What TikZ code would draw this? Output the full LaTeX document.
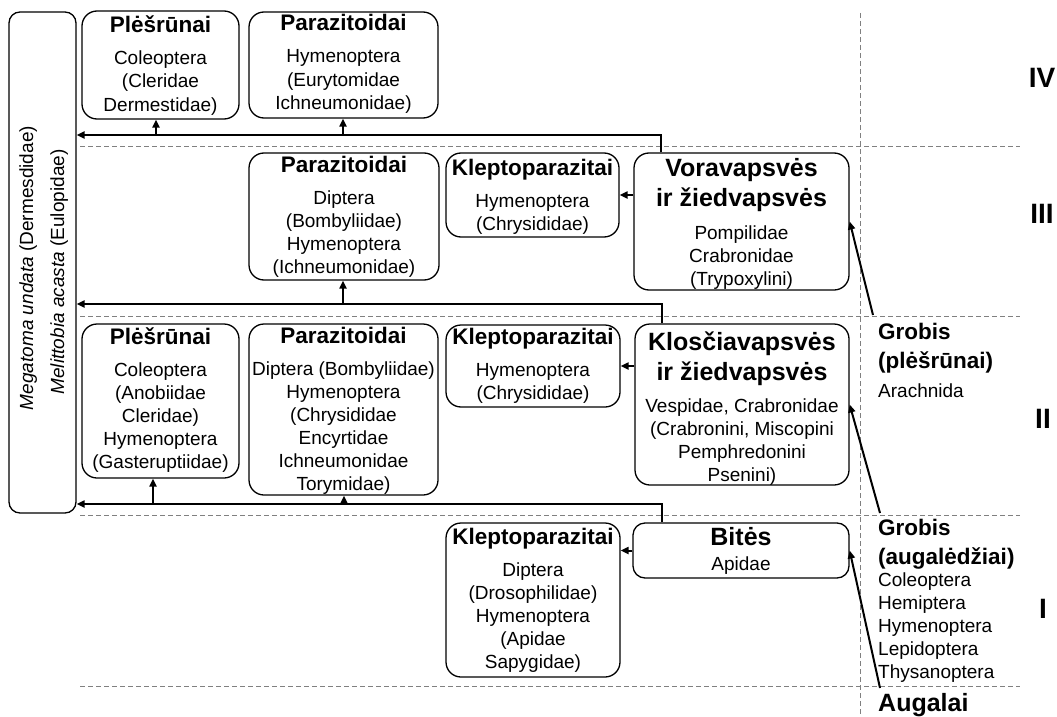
\documentclass[tikz,border=0pt]{standalone}
\usepackage{fontspec}
\setmainfont{Liberation Sans}
\usetikzlibrary{arrows.meta}
\newcommand\bx[6][]{\node[box,#1, minimum width={(#5-#3)*1pt}, minimum height={(#6-#4)*1pt}] (#2) at ({(#3+#5)/2},{(#4+#6)/2}) {};}
\newcommand\txt[6][]{\foreach \ww [count=\nn] in {#6} {\node[body,#1] (#2-\nn) at (#3,{#4+(\nn-1)*#5}) {\ww};}}
\begin{document}
\begin{tikzpicture}[x=1pt,y=-1pt,
 box/.style={draw, line width=1.3pt, rounded corners=15pt, inner sep=0pt},
 body/.style={font=\fontsize{19}{23}\selectfont, anchor=base, inner sep=0pt},
 ttl/.style={font=\bfseries\fontsize{22.5}{27}\selectfont, anchor=base, inner sep=0pt},
 big/.style={font=\bfseries\fontsize{25}{30}\selectfont, anchor=base, inner sep=0pt},
 num/.style={font=\bfseries\fontsize{28}{34}\selectfont, anchor=base, inner sep=0pt},
 conn/.style={line width=2pt, -{Triangle[length=8pt,width=7pt]}},
 grid/.style={gray, line width=0.9pt, dash pattern=on 5pt off 3pt},
]
\useasboundingbox (0,0) rectangle (1057,717);

% grid
\draw[grid] (80,146) -- (1020,146);
\draw[grid] (80,316) -- (1020,316);
\draw[grid] (80,515) -- (1020,515);
\draw[grid] (80,686) -- (1020,686);
\draw[grid] (860,13) -- (860,717);

% boxes
\bx[rounded corners=11pt]{lbox}{9}{12}{76}{513}
\bx{p4}{82}{11}{239}{119}
\bx{pa4}{249}{12}{438}{118}
\bx{pa3}{249}{153}{439}{280}
\bx{k3}{446}{153}{619}{237}
\bx{vora}{634}{153}{849}{290}
\bx{p2}{82}{324}{239}{478}
\bx{pa2}{249}{324}{438}{495}
\bx{k2}{446}{325}{620}{407}
\bx{klos}{635}{324}{849}{485}
\bx[rounded corners=12pt]{bites}{633}{523}{849}{578}
\bx{k1}{446}{523}{620}{677}

% left box text
\node[body, rotate=90] (lt1) at (33,268) {\textit{Megatoma undata} (Dermesdidae)};
\node[body, rotate=90] (lt2) at (64,272) {\textit{Melittobia acasta} (Eulopidae)};

% texts in boxes
\node[ttl] (p4t) at (160.5,33) {Plėšrūnai};
\txt{p4l}{160.5}{65}{23}{{Coleoptera},{(Cleridae},{Dermestidae)}}
\node[ttl] (pa4t) at (343.5,31) {Parazitoidai};
\txt{pa4l}{343.5}{63}{23}{{Hymenoptera},{(Eurytomidae},{Ichneumonidae)}}
\node[ttl] (pa3t) at (344,172) {Parazitoidai};
\txt{pa3l}{344}{204}{23}{{Diptera},{(Bombyliidae)},{Hymenoptera},{(Ichneumonidae)}}
\node[ttl] (k3t) at (532.5,175) {Kleptoparazitai};
\txt{k3l}{532.5}{207}{23}{{Hymenoptera},{(Chrysididae)}}
\node[big] (v1) at (741.5,176) {Voravapsvės};
\node[big] (v2) at (741.5,206) {ir žiedvapsvės};
\txt{vl}{741.5}{239}{23}{{Pompilidae},{Crabronidae},{(Trypoxylini)}}
\node[ttl] (p2t) at (160.5,344) {Plėšrūnai};
\txt{p2l}{160.5}{376}{23}{{Coleoptera},{(Anobiidae},{Cleridae)},{Hymenoptera},{(Gasteruptiidae)}}
\node[ttl] (pa2t) at (343.5,343) {Parazitoidai};
\txt{pa2l}{343.5}{375}{23}{{Diptera (Bombyliidae)},{Hymenoptera},{(Chrysididae},{Encyrtidae},{Ichneumonidae},{Torymidae)}}
\node[ttl] (k2t) at (533,344) {Kleptoparazitai};
\txt{k2l}{533}{376}{23}{{Hymenoptera},{(Chrysididae)}}
\node[big] (kl1) at (742,350) {Klosčiavapsvės};
\node[big] (kl2) at (742,380) {ir žiedvapsvės};
\txt{kll}{742}{412}{23}{{Vespidae, Crabronidae},{(Crabronini, Miscopini},{Pemphredonini},{Psenini)}}
\node[big] (bt) at (741,545) {Bitės};
\node[body] (bl) at (741,570) {Apidae};
\node[ttl] (k1t) at (533,544) {Kleptoparazitai};
\txt{k1l}{533}{576}{23}{{Diptera},{(Drosophilidae)},{Hymenoptera},{(Apidae},{Sapygidae)}}

% right column
\node[ttl, anchor=base west] (g2a) at (878,339) {Grobis};
\node[ttl, anchor=base west] (g2b) at (878,368) {(plėšrūnai)};
\node[body, anchor=base west] (g2c) at (878,397) {Arachnida};
\node[ttl, anchor=base west] (g1a) at (878,535) {Grobis};
\node[ttl, anchor=base west] (g1b) at (878,564) {(augalėdžiai)};
\txt[anchor=base west]{g1l}{878}{586}{23}{{Coleoptera},{Hemiptera},{Hymenoptera},{Lepidoptera},{Thysanoptera}}
\node[big, anchor=base west] (aug) at (878,711) {Augalai};

\node[num] (n4) at (1042,88) {IV};
\node[num] (n3) at (1042,223) {III};
\node[num] (n2) at (1043,428) {II};
\node[num] (n1) at (1043,618) {I};

% connectors
\coordinate (t4) at (661,135);
\draw[conn] (t4 |- vora.north) -- (t4) -- (t4 -| lbox.east);
\coordinate (u4a) at (156,135);
\draw[conn] (u4a) -- (u4a |- p4.south);
\coordinate (u4b) at (343,135);
\draw[conn] (u4b) -- (u4b |- pa4.south);
\coordinate (t3) at (662,304);
\draw[conn] (t3 |- klos.north) -- (t3) -- (t3 -| lbox.east);
\coordinate (u3) at (343,304);
\draw[conn] (u3) -- (u3 |- pa3.south);
\coordinate (t2) at (662,504);
\draw[conn] (t2 |- bites.north) -- (t2) -- (t2 -| lbox.east);
\coordinate (u2a) at (153,504);
\draw[conn] (u2a) -- (u2a |- p2.south);
\coordinate (u2b) at (344,504);
\draw[conn] (u2b) -- (u2b |- pa2.south);

\draw[conn] (vora.west |- k3.east) -- (k3.east);
\draw[conn] (klos.west |- k2.east) -- (k2.east);
\draw[conn] (bites.west) -- (k1.east |- bites.west);

\coordinate (s3) at (873,315);
\draw[conn] (s3) -- (vora.east);
\coordinate (s2) at (880,513);
\draw[conn] (s2) -- (klos.east);
\coordinate (s1) at (880,688);
\draw[conn] (s1) -- (bites.east);
\end{tikzpicture}
\end{document}
